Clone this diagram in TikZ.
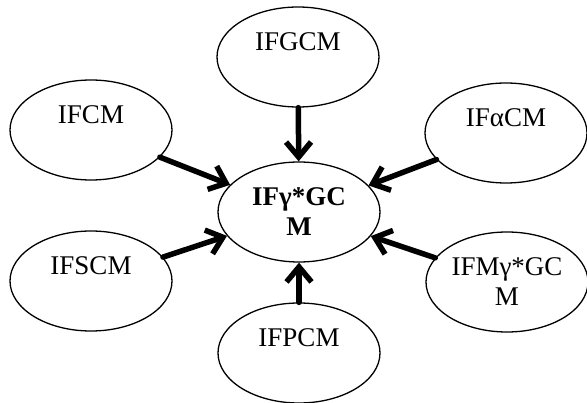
\documentclass[tikz,border=0pt]{standalone}
\usepackage{fontspec}
\setmainfont{Liberation Serif}
\usepackage{tikz}
\usetikzlibrary{shapes.geometric, arrows.meta, positioning}

\begin{document}
\begin{tikzpicture}[
    x=1pt, y=-1pt,
    model/.style={draw, ellipse, line width=1.3pt, minimum width=162pt, minimum height=100pt, inner sep=0pt, align=center, font=\fontsize{27}{30}\selectfont},
    hubmodel/.style={model, font=\fontsize{27}{30}\selectfont\bfseries},
    arrow/.style={-{Straight Barb[length=15pt, width=25pt]}, line width=5.5pt, line cap=round}
]
\useasboundingbox (0,0) rectangle (587,403);

% Modelo central
\node (hub) [hubmodel] at (299,212) {IFγ*GC\\M};

% Modelos alrededor
\node (gcm) [model] at (298,57) {IFGCM\\\mbox{}};
\node (fcm) [model] at (91,130) {IFCM\\\mbox{}};
\node (acm) [model] at (506,133) {IFαCM\\\mbox{}};
\node (scm) [model] at (91,281) {IFSCM\\\mbox{}};
\node (mgcm) [model] at (507,282) {IFMγ*GC\\M};
\node (pcm) [model] at (299,353) {IFPCM\\\mbox{}};

% Flechas hacia el centro
\draw [arrow] (gcm) -- (hub);
\draw [arrow] (fcm) -- (hub);
\draw [arrow] (acm) -- (hub);
\draw [arrow] (scm) -- (hub);
\draw [arrow] (mgcm) -- (hub);
\draw [arrow] (pcm) -- (hub);

\end{tikzpicture}
\end{document}
